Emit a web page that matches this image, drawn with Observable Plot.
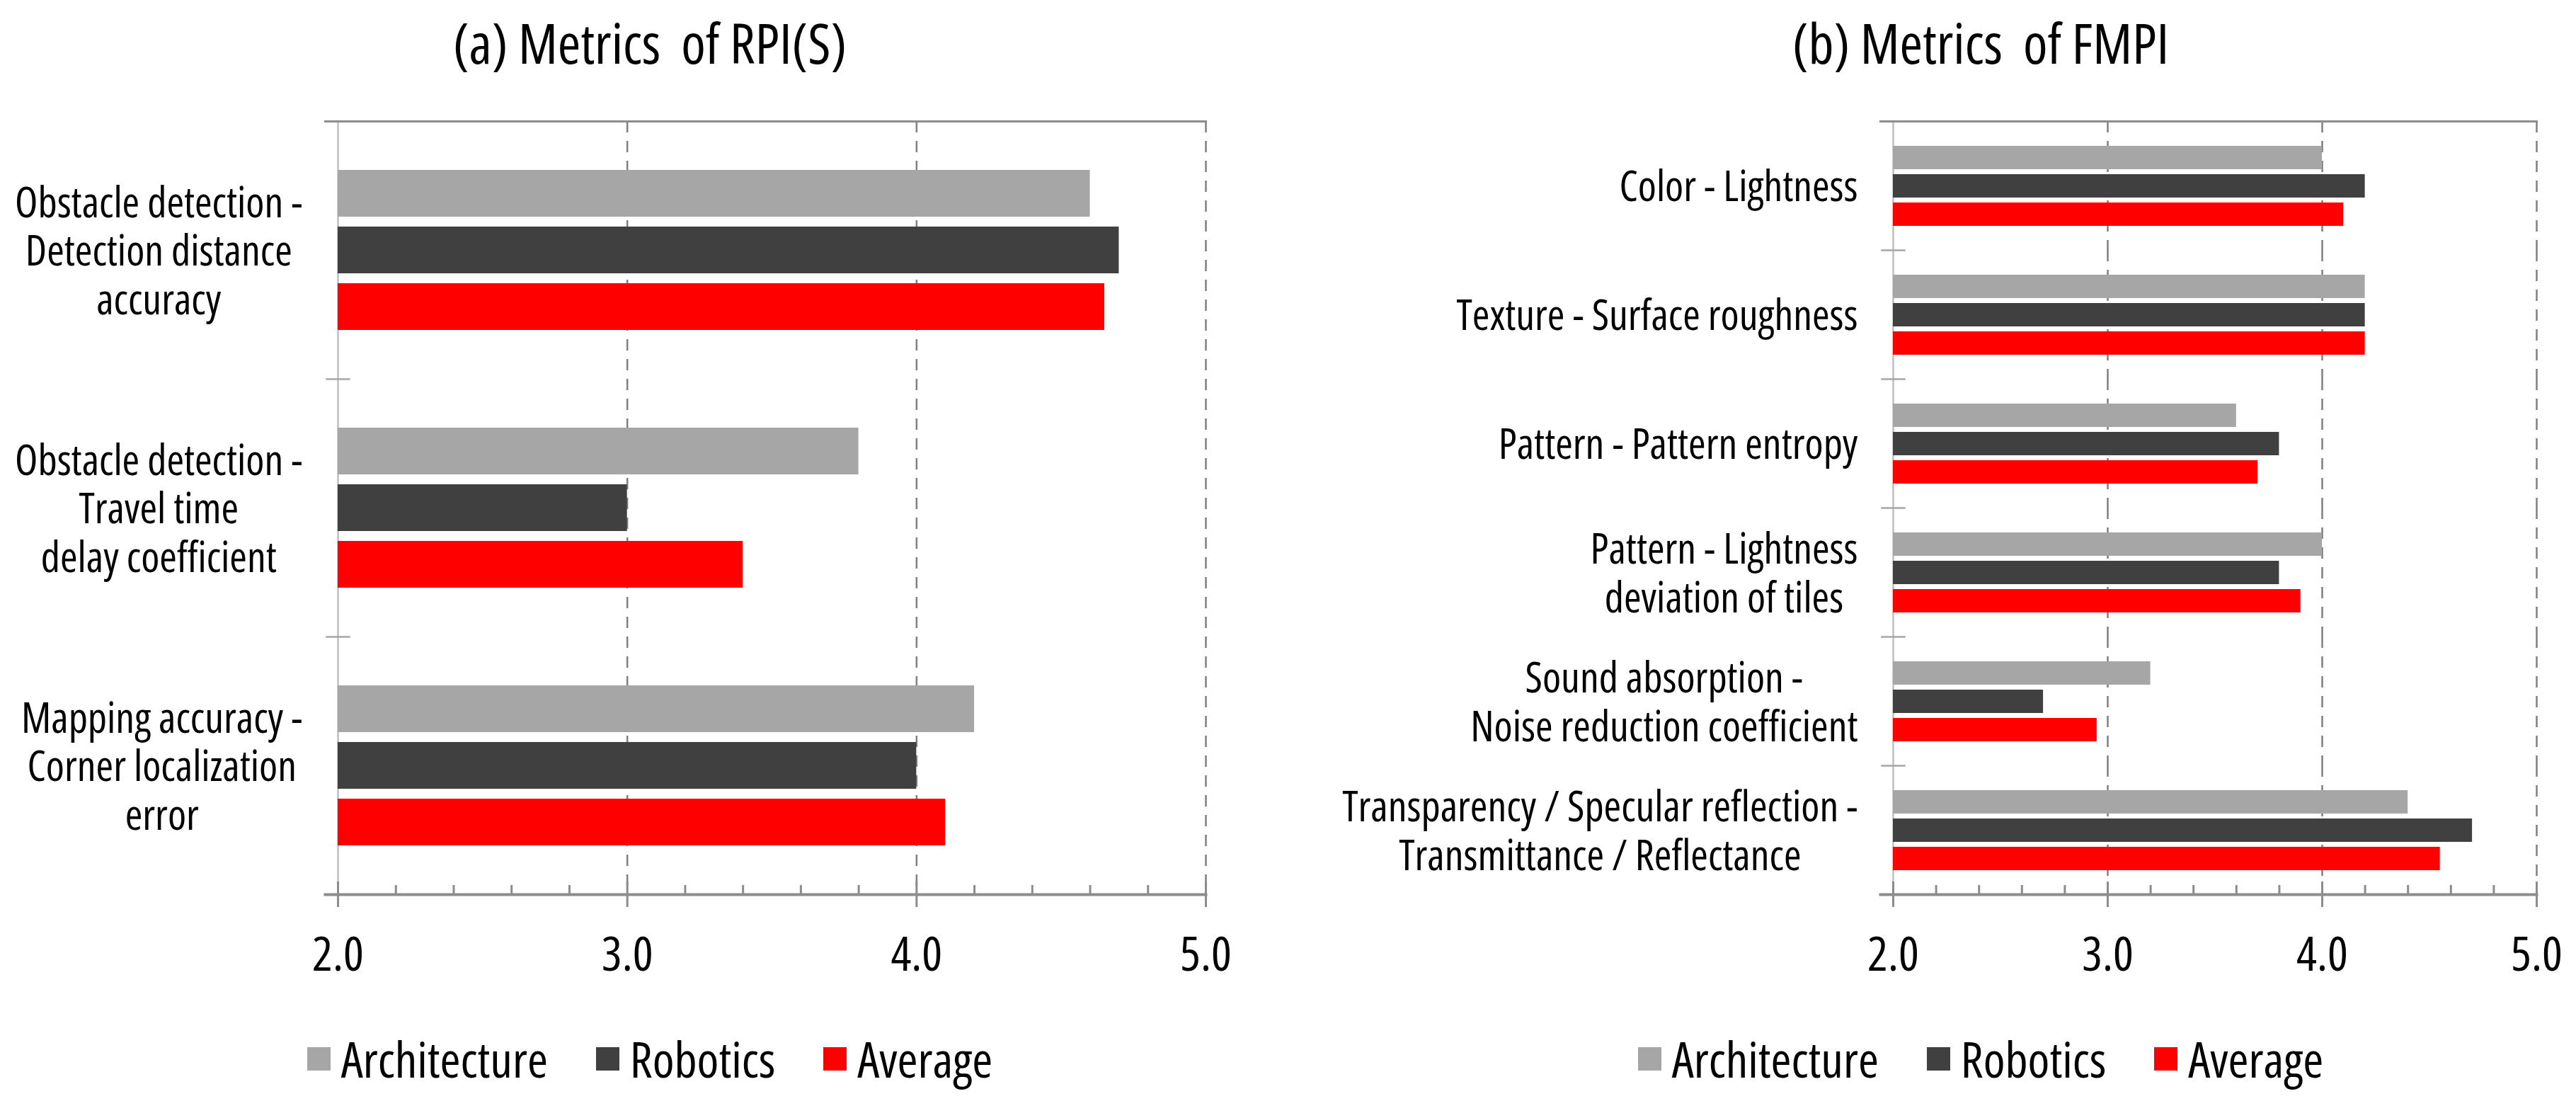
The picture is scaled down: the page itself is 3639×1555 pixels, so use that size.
<!DOCTYPE html>
<html><head><meta charset="utf-8">
<script src="https://cdn.jsdelivr.net/npm/d3@7"></script>
<script src="https://cdn.jsdelivr.net/npm/@observablehq/plot@0.6"></script>
<style>
html,body{margin:0;padding:0;background:#fff;}
#page{position:relative;width:3639px;height:1555px;overflow:hidden;background:#fff;color:#000;}
.title{position:absolute;text-align:center;white-space:pre;width:1000px;}
.legend{position:absolute;display:flex;justify-content:center;align-items:center;width:1200px;white-space:pre;}
.item{display:flex;align-items:center;margin:0 34px;}
.sw{width:33px;height:33px;margin-right:15px;flex:none;}
.panel{position:absolute;}
</style></head><body><div id="page"></div>
<script>
// ---- data ----
const series = ["Architecture", "Robotics", "Average"];
const seriesColors = ["#a6a6a6", "#404040", "#ff0000"];
const xTicks = [2.0, 3.0, 4.0, 5.0];
const xMinorTicks = [2.2, 2.4, 2.6, 2.8, 3.2, 3.4, 3.6, 3.8, 4.2, 4.4, 4.6, 4.8];

const rpiTitle = "(a) Metrics  of RPI(S)";
const rpiCategories = [
  "Obstacle detection -\nDetection distance\naccuracy",
  "Obstacle detection -\nTravel time\ndelay coefficient",
  "Mapping accuracy -\nCorner localization\nerror"
];
const rpiArchitecture = [4.6, 3.8, 4.2];
const rpiRobotics = [4.7, 3.0, 4.0];
const rpiAverage = [4.65, 3.4, 4.1];

const fmpiTitle = "(b) Metrics  of FMPI";
const fmpiCategories = [
  "Color - Lightness",
  "Texture - Surface roughness",
  "Pattern - Pattern entropy",
  "Pattern - Lightness\ndeviation of tiles",
  "Sound absorption -\nNoise reduction coefficient",
  "Transparency / Specular reflection -\nTransmittance / Reflectance"
];
const fmpiArchitecture = [4.0, 4.2, 3.6, 4.0, 3.2, 4.4];
const fmpiRobotics = [4.2, 4.2, 3.8, 3.8, 2.7, 4.7];
const fmpiAverage = [4.1, 4.2, 3.7, 3.9, 2.95, 4.55];

// ---- pick a narrow sans font (the reference uses an Arial Narrow–like face) ----
const probe = document.createElement("span");
probe.style.cssText = "position:absolute;visibility:hidden;white-space:pre;font-size:100px;left:-9999px;top:0";
document.body.appendChild(probe);
function measure(text, fam, stretch, size) {
  probe.textContent = text;
  probe.style.fontFamily = fam;
  probe.style.fontStretch = stretch;
  probe.style.fontSize = size + "px";
  return probe.getBoundingClientRect().width;
}
function pickFont() {
  const sample = "Obstacle detection - Architecture 2.0";
  const arial = measure(sample, '"Liberation Sans"', "normal", 100);
  const cands = [["Liberation Sans Narrow", "normal"], ["Arial Narrow", "normal"],
    ["Noto Sans Condensed", "normal"], ["Noto Sans", "condensed"], ["Noto Sans", "semi-condensed"],
    ["Open Sans Condensed", "normal"], ["Open Sans", "condensed"], ["Open Sans", "75%"],
    ["Roboto Condensed", "normal"], ["Roboto", "condensed"], ["Roboto", "75%"],
    ["DejaVu Sans Condensed", "normal"]];
  let best = null;
  for (const [fam, st] of cands) {
    const a = measure(sample, `"${fam}", monospace`, st, 100);
    const b = measure(sample, `"${fam}", serif`, st, 100);
    if (Math.abs(a - b) > 0.5) continue;
    const r = a / arial;
    if (!best || Math.abs(r - 0.82) < Math.abs(best.r - 0.82)) best = {fam, st, r};
  }
  if (!best || best.r > 0.95) best = {fam: "Liberation Sans", st: "normal", r: 1};
  return best;
}
const F = pickFont();
const FAMILY = `"${F.fam}", "Liberation Sans", Arial, sans-serif`;
const STRETCH = F.st;
const s = 0.82 / F.r;
const labelSize = 56 * s, tickSize = 64 * s, legendSize = 66 * s, titleSize = 74 * s;

// ---- layout ----
const page = document.getElementById("page");
const svgTop = 100, svgH = 1340, mT = 71, mB = 177;
const blockWidth = c => d3.max(c.split("\n"), l => measure(l, FAMILY, STRETCH, labelSize));

function rowsOf(cats, arrs) {
  const rows = [];
  cats.forEach((c, i) => series.forEach((ser, j) => rows.push({category: c, series: ser, value: arrs[j][i]})));
  return rows;
}

function panel({cats, rows, left, width, marginLeft, marginRight, title, center}) {
  const frameW = width - marginLeft - marginRight;
  const frameH = svgH - mT - mB;
  const facetH = frameH / cats.length;
  const firstCat = cats[0], lastCat = cats[cats.length - 1];
  const gray = "#8c8c8c";
  const chart = Plot.plot({
    width, height: svgH, marginLeft, marginRight, marginTop: mT, marginBottom: mB,
    style: `font-family:${FAMILY};font-stretch:${STRETCH};background:transparent;overflow:visible;color:#000;`,
    x: {domain: [xTicks[0], xTicks[xTicks.length - 1]], axis: null, label: null},
    fy: {domain: cats, padding: 0, axis: null, label: null},
    y: {domain: series, paddingInner: 0.18, paddingOuter: 0.84, axis: null, label: null},
    color: {domain: series, range: seriesColors},
    marks: [
      Plot.ruleX(xTicks.slice(1), {stroke: "#7f7f7f", strokeWidth: 2.5, strokeDasharray: "16,12"}),
      Plot.ruleX([xTicks[0]], {stroke: "#bfbfbf", strokeWidth: 2.5}),
      Plot.barX(rows, {fy: "category", y: "series", x: "value", fill: "series", clip: "frame"}),
      Plot.frame({anchor: "bottom", stroke: "#a6a6a6", strokeWidth: 2.5, insetLeft: -16, insetRight: frameW - 16}),
      Plot.frame({anchor: "top", fy: () => firstCat, stroke: gray, strokeWidth: 3, insetLeft: -18}),
      Plot.frame({anchor: "bottom", fy: () => lastCat, stroke: gray, strokeWidth: 4, insetLeft: -18}),
      Plot.tickX(xMinorTicks, {x: d => d, fy: () => lastCat, stroke: gray, strokeWidth: 3, insetTop: facetH - 13}),
      Plot.tickX(xTicks, {x: d => d, fy: () => lastCat, stroke: gray, strokeWidth: 3, insetTop: facetH - 18}),
      Plot.axisX(xTicks, {tickSize: 18, tickPadding: 41, fontSize: tickSize, tickFormat: d3.format(".1f"),
        stroke: gray, strokeWidth: 3, fill: "#000", label: null}),
      ...cats.map(c => Plot.text([c], {fy: d => d, text: d => d, frameAnchor: "left", textAnchor: "middle",
        lineAnchor: "middle", lineHeight: 68.5 / labelSize, fontSize: labelSize, fill: "#000",
        dx: -(50 + blockWidth(c) / 2)}))
    ]
  });
  const holder = document.createElement("div");
  holder.className = "panel";
  holder.style.left = left + "px";
  holder.style.top = svgTop + "px";
  holder.appendChild(chart);
  page.appendChild(holder);

  const t = document.createElement("div");
  t.className = "title";
  t.textContent = title;
  t.style.fontFamily = FAMILY;
  t.style.fontStretch = STRETCH;
  t.style.fontSize = titleSize + "px";
  t.style.lineHeight = titleSize + "px";
  t.style.left = (center - 500) + "px";
  t.style.top = (88 - 0.85 * titleSize) + "px";
  page.appendChild(t);

  const lg = document.createElement("div");
  lg.className = "legend";
  lg.style.fontFamily = FAMILY;
  lg.style.fontStretch = STRETCH;
  lg.style.fontSize = legendSize + "px";
  lg.style.lineHeight = legendSize + "px";
  lg.style.left = (center - 600) + "px";
  lg.style.top = (1520 - 0.85 * legendSize) + "px";
  series.forEach((ser, i) => {
    const it = document.createElement("div");
    it.className = "item";
    const sw = document.createElement("div");
    sw.className = "sw";
    sw.style.background = seriesColors[i];
    const tx = document.createElement("span");
    tx.textContent = ser;
    it.appendChild(sw); it.appendChild(tx);
    lg.appendChild(it);
  });
  page.appendChild(lg);
}

panel({cats: rpiCategories, rows: rowsOf(rpiCategories, [rpiArchitecture, rpiRobotics, rpiAverage]),
  left: 0, width: 1760, marginLeft: 477, marginRight: 57, title: rpiTitle, center: 918});
panel({cats: fmpiCategories, rows: rowsOf(fmpiCategories, [fmpiArchitecture, fmpiRobotics, fmpiAverage]),
  left: 1800, width: 1839, marginLeft: 874, marginRight: 56, title: fmpiTitle, center: 2798});
</script>
</body></html>
